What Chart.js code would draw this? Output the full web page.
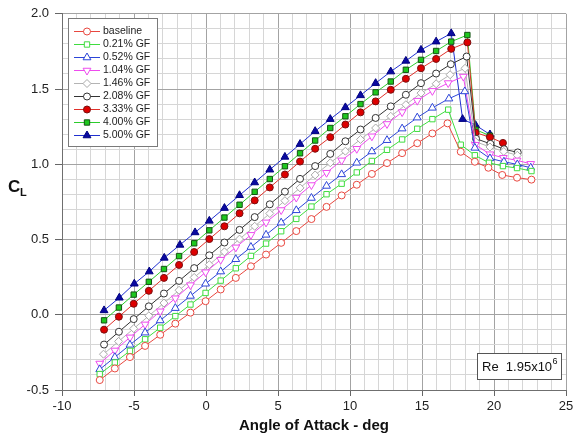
<!DOCTYPE html>
<html>
<head>
<meta charset="utf-8">
<script src="https://cdn.jsdelivr.net/npm/chart.js@4.4.0/dist/chart.umd.min.js"></script>
<style>
  html, body { margin: 0; padding: 0; background: #fff; }
  #wrap { width: 574px; height: 438px; }
</style>
</head>
<body>
<div id="wrap"><canvas id="cl"></canvas></div>
<script>
// lift curves, CL vs angle of attack (deg), one pair of arrays per run
const aoaBaseline = [-7.38, -6.33, -5.28, -4.23, -3.18, -2.13, -1.08, -0.03, 1.02, 2.07, 3.12, 4.17, 5.22, 6.27, 7.32, 8.37, 9.42, 10.47, 11.52, 12.57, 13.62, 14.67, 15.72, 16.77, 17.69, 18.67, 19.61, 20.57, 21.60, 22.60];
const clBaseline = [-0.434, -0.357, -0.281, -0.207, -0.133, -0.059, 0.014, 0.090, 0.168, 0.245, 0.322, 0.400, 0.478, 0.556, 0.636, 0.717, 0.793, 0.864, 0.936, 1.008, 1.074, 1.140, 1.205, 1.272, 1.083, 1.017, 0.977, 0.929, 0.911, 0.898];

const aoaGf021 = [-7.38, -6.33, -5.28, -4.23, -3.18, -2.13, -1.08, -0.03, 1.02, 2.07, 3.12, 4.17, 5.22, 6.27, 7.32, 8.37, 9.42, 10.47, 11.52, 12.57, 13.62, 14.67, 15.72, 16.82, 17.69, 18.67, 19.65, 20.62, 21.60, 22.60];
const clGf021 = [-0.394, -0.317, -0.240, -0.163, -0.086, -0.009, 0.068, 0.145, 0.227, 0.309, 0.391, 0.473, 0.555, 0.637, 0.719, 0.801, 0.871, 0.946, 1.022, 1.096, 1.165, 1.236, 1.300, 1.363, 1.130, 1.060, 1.010, 0.988, 0.975, 0.955];

const aoaGf052 = [-7.38, -6.33, -5.28, -4.23, -3.18, -2.13, -1.08, -0.03, 1.02, 2.07, 3.12, 4.17, 5.22, 6.27, 7.32, 8.37, 9.42, 10.47, 11.52, 12.57, 13.62, 14.67, 15.72, 16.87, 17.97, 18.67, 19.72, 20.69, 21.62, 22.55];
const clGf052 = [-0.363, -0.282, -0.200, -0.119, -0.038, 0.044, 0.125, 0.206, 0.287, 0.369, 0.450, 0.531, 0.612, 0.694, 0.776, 0.856, 0.933, 1.010, 1.085, 1.160, 1.237, 1.310, 1.375, 1.436, 1.484, 1.109, 1.039, 1.017, 0.999, 0.977];

const aoaGf104 = [-7.38, -6.33, -5.28, -4.23, -3.18, -2.13, -1.08, -0.03, 1.02, 2.07, 3.12, 4.17, 5.22, 6.27, 7.32, 8.37, 9.42, 10.47, 11.52, 12.57, 13.62, 14.67, 15.72, 16.82, 17.87, 18.70, 19.72, 20.65, 21.60, 22.55];
const clGf104 = [-0.324, -0.237, -0.150, -0.064, 0.023, 0.110, 0.197, 0.283, 0.366, 0.448, 0.531, 0.614, 0.696, 0.779, 0.862, 0.944, 1.026, 1.103, 1.186, 1.268, 1.347, 1.423, 1.488, 1.540, 1.583, 1.130, 1.067, 1.043, 1.026, 1.003];

const aoaGf146 = [-7.12, -6.07, -5.02, -3.97, -2.92, -1.87, -0.82, 0.23, 1.28, 2.33, 3.38, 4.43, 5.48, 6.53, 7.58, 8.63, 9.68, 10.73, 11.78, 12.83, 13.88, 14.93, 15.98, 16.95, 17.99, 18.72, 19.72, 20.68, 21.62];
const clGf146 = [-0.262, -0.177, -0.092, -0.007, 0.078, 0.163, 0.248, 0.333, 0.418, 0.503, 0.588, 0.673, 0.758, 0.843, 0.929, 1.010, 1.087, 1.165, 1.241, 1.319, 1.396, 1.473, 1.535, 1.595, 1.638, 1.150, 1.115, 1.085, 1.060];

const aoaGf208 = [-7.08, -6.05, -5.02, -3.97, -2.92, -1.87, -0.82, 0.23, 1.28, 2.33, 3.38, 4.43, 5.48, 6.53, 7.58, 8.63, 9.68, 10.73, 11.78, 12.83, 13.88, 14.93, 15.98, 17.00, 18.10, 18.75, 19.75, 20.70, 21.65];
const clGf208 = [-0.198, -0.113, -0.029, 0.056, 0.141, 0.225, 0.310, 0.395, 0.480, 0.564, 0.649, 0.734, 0.818, 0.903, 0.988, 1.069, 1.153, 1.231, 1.308, 1.385, 1.462, 1.539, 1.603, 1.665, 1.716, 1.170, 1.136, 1.100, 1.079];

const aoaGf333 = [-7.08, -6.05, -5.02, -3.97, -2.92, -1.87, -0.82, 0.23, 1.28, 2.33, 3.38, 4.43, 5.48, 6.53, 7.58, 8.63, 9.68, 10.73, 11.78, 12.83, 13.88, 14.93, 15.98, 17.03, 18.15, 18.72, 19.72, 20.62];
const clGf333 = [-0.099, -0.013, 0.073, 0.159, 0.245, 0.331, 0.417, 0.503, 0.588, 0.674, 0.760, 0.846, 0.932, 1.018, 1.103, 1.180, 1.264, 1.345, 1.418, 1.495, 1.568, 1.638, 1.700, 1.767, 1.810, 1.210, 1.180, 1.142];

const aoaGf400 = [-7.08, -6.05, -5.02, -3.97, -2.92, -1.87, -0.82, 0.23, 1.28, 2.33, 3.38, 4.43, 5.48, 6.53, 7.58, 8.63, 9.68, 10.73, 11.78, 12.83, 13.88, 14.93, 15.98, 17.03, 18.15, 18.72, 19.72];
const clGf400 = [-0.037, 0.048, 0.134, 0.219, 0.304, 0.390, 0.475, 0.561, 0.646, 0.731, 0.817, 0.902, 0.987, 1.073, 1.158, 1.241, 1.319, 1.400, 1.478, 1.550, 1.628, 1.694, 1.753, 1.815, 1.859, 1.230, 1.190];

const aoaGf500 = [-7.08, -6.02, -4.98, -3.94, -2.90, -1.81, -0.76, 0.23, 1.28, 2.33, 3.38, 4.43, 5.48, 6.53, 7.58, 8.63, 9.68, 10.73, 11.78, 12.83, 13.88, 14.93, 15.98, 17.03, 17.82, 18.72, 19.72];
const clGf500 = [0.029, 0.113, 0.206, 0.287, 0.378, 0.464, 0.547, 0.624, 0.709, 0.794, 0.879, 0.964, 1.049, 1.134, 1.220, 1.300, 1.378, 1.458, 1.539, 1.616, 1.687, 1.760, 1.815, 1.870, 1.300, 1.260, 1.198];

const FONT = '"Liberation Sans", Arial, sans-serif';

function makeSet(label, aoa, cl, st) {
  return {
    label: label,
    data: aoa.map((a, i) => ({ x: a, y: cl[i] })),
    borderColor: st.line,
    borderWidth: 1,
    pointStyle: st.shape,
    pointRotation: st.rot || 0,
    pointRadius: st.r || 3.5,
    pointBackgroundColor: st.fill,
    pointBorderColor: st.edge,
    pointBorderWidth: 1,
    pointHoverRadius: st.r || 3.5,
    tension: 0
  };
}

const datasets = [
  makeSet('baseline', aoaBaseline, clBaseline, { line: '#e8473f', edge: '#e8473f', fill: '#fff', shape: 'circle' }),
  makeSet('0.21% GF', aoaGf021, clGf021, { line: '#3fdc3f', edge: '#3fdc3f', fill: '#fff', shape: 'rect', r: 3.8 }),
  makeSet('0.52% GF', aoaGf052, clGf052, { line: '#2c45d8', edge: '#2c45d8', fill: '#fff', shape: 'triangle', r: 4.5 }),
  makeSet('1.04% GF', aoaGf104, clGf104, { line: '#ee4bee', edge: '#ee4bee', fill: '#fff', shape: 'triangle', rot: 180, r: 4.5 }),
  makeSet('1.46% GF', aoaGf146, clGf146, { line: '#b4b4b4', edge: '#a8a8a8', fill: '#fff', shape: 'rectRot', r: 4 }),
  makeSet('2.08% GF', aoaGf208, clGf208, { line: '#333333', edge: '#333333', fill: '#fff', shape: 'circle' }),
  makeSet('3.33% GF', aoaGf333, clGf333, { line: '#e0302a', edge: '#7a1010', fill: '#dd0000', shape: 'circle' }),
  makeSet('4.00% GF', aoaGf400, clGf400, { line: '#2ccc2c', edge: '#145214', fill: '#1ec81e', shape: 'rect', r: 3.8 }),
  makeSet('5.00% GF', aoaGf500, clGf500, { line: '#2030d0', edge: '#000080', fill: '#0a0aa0', shape: 'triangle', r: 4.5 })
];

const isMajor = (v, step) => Math.abs(v / step - Math.round(v / step)) < 1e-6;

// legend box, axis titles and the Reynolds-number tag
const annotations = {
  id: 'annotations',
  afterDraw(chart) {
    const ctx = chart.ctx;
    ctx.save();

    // legend
    ctx.fillStyle = '#fff';
    ctx.fillRect(68.5, 18.5, 89, 128);
    ctx.strokeStyle = '#7a7a7a';
    ctx.lineWidth = 1;
    ctx.strokeRect(68.5, 18.5, 89, 128);
    ctx.font = '10.5px ' + FONT;
    ctx.textBaseline = 'middle';
    chart.data.datasets.forEach((ds, i) => {
      const y = 31.5 + i * 13;
      ctx.strokeStyle = ds.borderColor;
      ctx.lineWidth = 1;
      ctx.beginPath();
      ctx.moveTo(74, y);
      ctx.lineTo(100, y);
      ctx.stroke();
      ctx.fillStyle = ds.pointBackgroundColor;
      ctx.strokeStyle = ds.pointBorderColor;
      Chart.helpers.drawPoint(ctx, {
        pointStyle: ds.pointStyle,
        radius: ds.pointRadius,
        rotation: ds.pointRotation,
        borderWidth: 1
      }, 87, y);
      ctx.fillStyle = '#222';
      ctx.fillText(ds.label, 103, y);
    });

    // C_L
    ctx.fillStyle = '#111';
    ctx.textBaseline = 'alphabetic';
    ctx.font = 'bold 17px ' + FONT;
    ctx.fillText('C', 8, 192);
    ctx.font = 'bold 11px ' + FONT;
    ctx.fillText('L', 20, 196);

    // x title
    ctx.font = 'bold 15px ' + FONT;
    ctx.textAlign = 'center';
    ctx.fillText('Angle of Attack - deg', 314, 430);

    // Re tag
    ctx.textAlign = 'left';
    ctx.fillStyle = '#fff';
    ctx.fillRect(477.5, 353.5, 84, 26);
    ctx.strokeStyle = '#555';
    ctx.strokeRect(477.5, 353.5, 84, 26);
    ctx.fillStyle = '#111';
    ctx.font = '13px ' + FONT;
    ctx.fillText('Re  1.95x10', 482, 371);
    const w = ctx.measureText('Re  1.95x10').width;
    ctx.font = '9px ' + FONT;
    ctx.fillText('6', 482 + w + 0.5, 364);
    ctx.restore();
  }
};

new Chart(document.getElementById('cl'), {
  type: 'line',
  data: { datasets: datasets },
  options: {
    responsive: true,
    maintainAspectRatio: false,
    animation: false,
    layout: { padding: { top: 12, right: 0, left: 0, bottom: 0 } },
    plugins: { legend: { display: false }, tooltip: { enabled: false } },
    scales: {
      x: {
        type: 'linear',
        min: -10,
        max: 25,
        afterFit: s => { s.height = 48; s.paddingRight = 8; },
        ticks: {
          stepSize: 1,
          autoSkip: false,
          maxRotation: 0,
          padding: 3,
          color: '#222',
          font: { family: FONT, size: 13 },
          callback: v => (isMajor(v, 5) ? String(Math.round(v)) : '')
        },
        grid: {
          color: c => (isMajor(c.tick.value, 5) ? '#a3a3a3' : '#d6d6d6'),
          tickColor: c => (isMajor(c.tick.value, 5) ? '#666' : 'rgba(0,0,0,0)'),
          tickLength: 6,
          lineWidth: 1
        },
        border: { color: '#6f6f6f' }
      },
      y: {
        type: 'linear',
        min: -0.5,
        max: 2.0,
        afterFit: s => { s.width = 62; },
        ticks: {
          stepSize: 0.1,
          autoSkip: false,
          padding: 6,
          color: '#222',
          font: { family: FONT, size: 13 },
          callback: v => (isMajor(v, 0.5) ? v.toFixed(1) : '')
        },
        grid: {
          color: c => (isMajor(c.tick.value, 0.5) ? '#a3a3a3' : '#d6d6d6'),
          tickColor: c => (isMajor(c.tick.value, 0.5) ? '#666' : 'rgba(0,0,0,0)'),
          tickLength: 7,
          lineWidth: 1
        },
        border: { color: '#6f6f6f' }
      }
    }
  },
  plugins: [annotations]
});
</script>
</body>
</html>
